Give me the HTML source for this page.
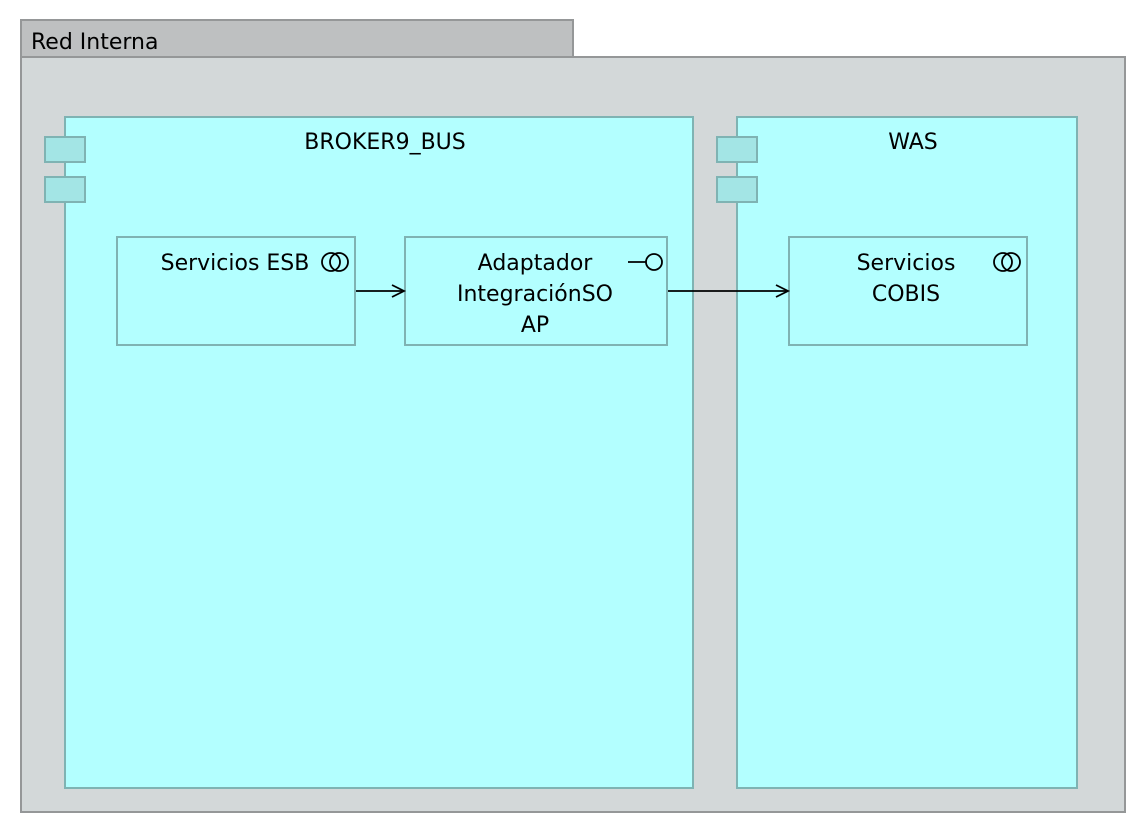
<!DOCTYPE html>
<html><head><meta charset="utf-8"><style>body{margin:0;background:#fff}svg{display:block}text{font-family:"DejaVu Sans","Liberation Sans",sans-serif;font-size:22px;fill:#000}</style></head><body>
<svg width="1146" height="834" xmlns="http://www.w3.org/2000/svg">
<rect x="21" y="20" width="552" height="37" fill="#bec0c1" stroke="#959798" stroke-width="2"/>
<text x="31" y="49">Red Interna</text>
<rect x="21" y="57" width="1104" height="755" fill="#d3d8d9" stroke="#959798" stroke-width="2"/>
<g stroke="#7fb3b3" stroke-width="2">
<rect x="65" y="117" width="628" height="671" fill="#b3ffff"/>
<rect x="45" y="137" width="40" height="25" fill="#a3e5e5"/>
<rect x="45" y="177" width="40" height="25" fill="#a3e5e5"/>
<rect x="737" y="117" width="340" height="671" fill="#b3ffff"/>
<rect x="717" y="137" width="40" height="25" fill="#a3e5e5"/>
<rect x="717" y="177" width="40" height="25" fill="#a3e5e5"/>
<rect x="117" y="237" width="238" height="108" fill="#b3ffff"/>
<rect x="405" y="237" width="262" height="108" fill="#b3ffff"/>
<rect x="789" y="237" width="238" height="108" fill="#b3ffff"/>
</g>
<text x="385" y="149" text-anchor="middle">BROKER9_BUS</text>
<text x="913" y="149" text-anchor="middle">WAS</text>
<text x="235" y="270" text-anchor="middle">Servicios ESB</text>
<text x="535" y="270" text-anchor="middle">Adaptador</text>
<text x="535" y="301" text-anchor="middle">IntegraciónSO</text>
<text x="535" y="332" text-anchor="middle">AP</text>
<text x="906" y="270" text-anchor="middle">Servicios</text>
<text x="906" y="301" text-anchor="middle">COBIS</text>
<g fill="none" stroke="#000" stroke-width="1.8">
<circle cx="331" cy="262" r="9"/><circle cx="339" cy="262" r="9"/>
<circle cx="1003" cy="262" r="9"/><circle cx="1011" cy="262" r="9"/>
<circle cx="654" cy="262" r="8"/><line x1="628" y1="262" x2="646" y2="262"/>
<line x1="356" y1="291" x2="404" y2="291"/><polyline points="392,285 404,291 392,297"/>
<line x1="668" y1="291" x2="788" y2="291"/><polyline points="776,285 788,291 776,297"/>
</g>
</svg>
</body></html>
